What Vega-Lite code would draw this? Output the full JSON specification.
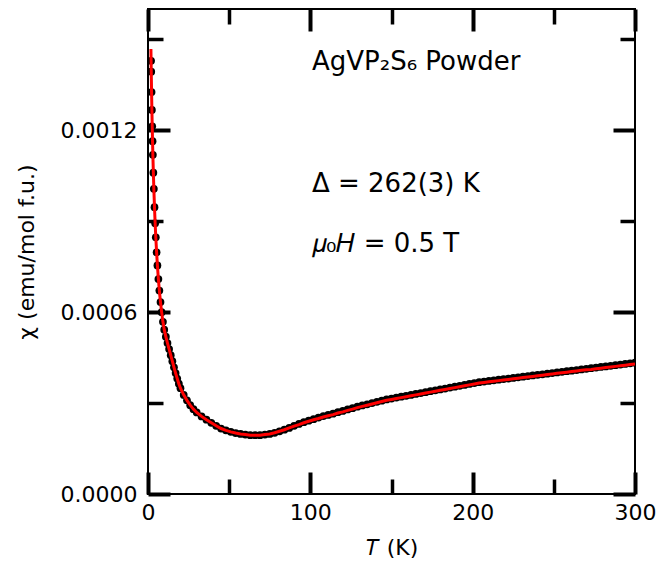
{
  "$schema": "https://vega.github.io/schema/vega-lite/v6.json",
  "width": 487,
  "height": 485,
  "autosize": {"type": "none"},
  "padding": {"left": 148, "top": 9, "right": 21, "bottom": 80},
  "background": "white",
  "config": {
    "font": "DejaVu Sans",
    "view": {"stroke": "black", "strokeWidth": 2},
    "axis": {
      "domain": false, "grid": false,
      "labelFont": "DejaVu Sans", "labelFontSize": 22, "labelColor": "black",
      "titleFont": "DejaVu Sans", "titleFontSize": 22, "titleFontWeight": "normal", "titleColor": "black",
      "tickColor": "black", "labelFlush": false
    }
  },
  "datasets": {
    "curve": [
      {"T": 1.8, "fit": 0.001468, "chi": null},
      {"T": 1.9, "fit": 0.001429, "chi": 0.001429},
      {"T": 2.0, "fit": 0.001393, "chi": 0.001393},
      {"T": 2.2, "fit": 0.001326, "chi": 0.001326},
      {"T": 2.4, "fit": 0.001267, "chi": 0.001267},
      {"T": 2.6, "fit": 0.001213, "chi": 0.001213},
      {"T": 2.8, "fit": 0.001164, "chi": 0.001164},
      {"T": 3.0, "fit": 0.001119, "chi": 0.001119},
      {"T": 3.3, "fit": 0.001060, "chi": 0.001060},
      {"T": 3.6, "fit": 0.001007, "chi": 0.001007},
      {"T": 4.0, "fit": 0.000946, "chi": 0.000946},
      {"T": 4.4, "fit": 0.000893, "chi": 0.000893},
      {"T": 4.8, "fit": 0.000847, "chi": 0.000847},
      {"T": 5.3, "fit": 0.000797, "chi": 0.000797},
      {"T": 5.8, "fit": 0.000754, "chi": 0.000754},
      {"T": 6.4, "fit": 0.000709, "chi": 0.000709},
      {"T": 7.0, "fit": 0.000671, "chi": 0.000671},
      {"T": 7.7, "fit": 0.000633, "chi": 0.000633},
      {"T": 8.4, "fit": 0.000600, "chi": 0.000600},
      {"T": 9.2, "fit": 0.000568, "chi": 0.000568},
      {"T": 10, "fit": 0.000542, "chi": 0.000542},
      {"T": 11, "fit": 0.000519, "chi": 0.000519},
      {"T": 12, "fit": 0.000498, "chi": 0.000498},
      {"T": 13, "fit": 0.000478, "chi": 0.000478},
      {"T": 14, "fit": 0.000458, "chi": 0.000458},
      {"T": 15, "fit": 0.000438, "chi": 0.000438},
      {"T": 16, "fit": 0.000418, "chi": 0.000418},
      {"T": 17, "fit": 0.000399, "chi": 0.000399},
      {"T": 18, "fit": 0.000381, "chi": 0.000381},
      {"T": 19, "fit": 0.000364, "chi": 0.000364},
      {"T": 20, "fit": 0.000349, "chi": 0.000349},
      {"T": 22, "fit": 0.000327, "chi": 0.000327},
      {"T": 24, "fit": 0.000309, "chi": 0.000309},
      {"T": 26, "fit": 0.000293, "chi": 0.000293},
      {"T": 28, "fit": 0.000280, "chi": 0.000280},
      {"T": 30, "fit": 0.000269, "chi": 0.000269},
      {"T": 33, "fit": 0.000256, "chi": 0.000256},
      {"T": 36, "fit": 0.000245, "chi": 0.000245},
      {"T": 39, "fit": 0.000235, "chi": 0.000235},
      {"T": 42, "fit": 0.000225, "chi": 0.000225},
      {"T": 45, "fit": 0.000216, "chi": 0.000216},
      {"T": 48, "fit": 0.000210, "chi": 0.000210},
      {"T": 51, "fit": 0.000205, "chi": 0.000205},
      {"T": 54, "fit": 0.000201, "chi": 0.000201},
      {"T": 57, "fit": 0.000198, "chi": 0.000198},
      {"T": 60, "fit": 0.000196, "chi": 0.000196},
      {"T": 63, "fit": 0.000194, "chi": 0.000194},
      {"T": 66, "fit": 0.000194, "chi": 0.000194},
      {"T": 69, "fit": 0.000194, "chi": 0.000194},
      {"T": 72, "fit": 0.000196, "chi": 0.000196},
      {"T": 75, "fit": 0.000198, "chi": 0.000198},
      {"T": 78, "fit": 0.000202, "chi": 0.000202},
      {"T": 81, "fit": 0.000207, "chi": 0.000207},
      {"T": 84, "fit": 0.000212, "chi": 0.000212},
      {"T": 87, "fit": 0.000218, "chi": 0.000218},
      {"T": 90, "fit": 0.000224, "chi": 0.000225},
      {"T": 93, "fit": 0.000229, "chi": 0.000231},
      {"T": 96, "fit": 0.000235, "chi": 0.000237},
      {"T": 99, "fit": 0.000240, "chi": 0.000242},
      {"T": 102, "fit": 0.000245, "chi": 0.000247},
      {"T": 105, "fit": 0.000249, "chi": 0.000252},
      {"T": 108, "fit": 0.000254, "chi": 0.000257},
      {"T": 111, "fit": 0.000258, "chi": 0.000261},
      {"T": 114, "fit": 0.000262, "chi": 0.000265},
      {"T": 117, "fit": 0.000267, "chi": 0.000270},
      {"T": 120, "fit": 0.000271, "chi": 0.000274},
      {"T": 123, "fit": 0.000276, "chi": 0.000279},
      {"T": 126, "fit": 0.000280, "chi": 0.000283},
      {"T": 129, "fit": 0.000285, "chi": 0.000288},
      {"T": 132, "fit": 0.000289, "chi": 0.000292},
      {"T": 135, "fit": 0.000293, "chi": 0.000296},
      {"T": 138, "fit": 0.000297, "chi": 0.000300},
      {"T": 141, "fit": 0.000301, "chi": 0.000304},
      {"T": 144, "fit": 0.000305, "chi": 0.000308},
      {"T": 147, "fit": 0.000309, "chi": 0.000312},
      {"T": 150, "fit": 0.000312, "chi": 0.000315},
      {"T": 153, "fit": 0.000315, "chi": 0.000318},
      {"T": 156, "fit": 0.000318, "chi": 0.000321},
      {"T": 159, "fit": 0.000321, "chi": 0.000324},
      {"T": 162, "fit": 0.000324, "chi": 0.000327},
      {"T": 165, "fit": 0.000327, "chi": 0.000330},
      {"T": 168, "fit": 0.000330, "chi": 0.000333},
      {"T": 171, "fit": 0.000333, "chi": 0.000336},
      {"T": 174, "fit": 0.000336, "chi": 0.000339},
      {"T": 177, "fit": 0.000339, "chi": 0.000342},
      {"T": 180, "fit": 0.000342, "chi": 0.000345},
      {"T": 183, "fit": 0.000345, "chi": 0.000348},
      {"T": 186, "fit": 0.000348, "chi": 0.000351},
      {"T": 189, "fit": 0.000351, "chi": 0.000354},
      {"T": 192, "fit": 0.000354, "chi": 0.000357},
      {"T": 195, "fit": 0.000357, "chi": 0.000360},
      {"T": 198, "fit": 0.000360, "chi": 0.000363},
      {"T": 201, "fit": 0.000363, "chi": 0.000366},
      {"T": 204, "fit": 0.000366, "chi": 0.000369},
      {"T": 207, "fit": 0.000368, "chi": 0.000371},
      {"T": 210, "fit": 0.000370, "chi": 0.000373},
      {"T": 213, "fit": 0.000372, "chi": 0.000375},
      {"T": 216, "fit": 0.000374, "chi": 0.000377},
      {"T": 219, "fit": 0.000376, "chi": 0.000379},
      {"T": 222, "fit": 0.000378, "chi": 0.000381},
      {"T": 225, "fit": 0.000380, "chi": 0.000383},
      {"T": 228, "fit": 0.000382, "chi": 0.000385},
      {"T": 231, "fit": 0.000384, "chi": 0.000387},
      {"T": 234, "fit": 0.000386, "chi": 0.000389},
      {"T": 237, "fit": 0.000388, "chi": 0.000391},
      {"T": 240, "fit": 0.000390, "chi": 0.000393},
      {"T": 243, "fit": 0.000392, "chi": 0.000395},
      {"T": 246, "fit": 0.000394, "chi": 0.000397},
      {"T": 249, "fit": 0.000396, "chi": 0.000399},
      {"T": 252, "fit": 0.000398, "chi": 0.000401},
      {"T": 255, "fit": 0.000400, "chi": 0.000403},
      {"T": 258, "fit": 0.000402, "chi": 0.000405},
      {"T": 261, "fit": 0.000404, "chi": 0.000407},
      {"T": 264, "fit": 0.000406, "chi": 0.000409},
      {"T": 267, "fit": 0.000408, "chi": 0.000411},
      {"T": 270, "fit": 0.000410, "chi": 0.000413},
      {"T": 273, "fit": 0.000411, "chi": 0.000415},
      {"T": 276, "fit": 0.000413, "chi": 0.000417},
      {"T": 279, "fit": 0.000415, "chi": 0.000419},
      {"T": 282, "fit": 0.000417, "chi": 0.000421},
      {"T": 285, "fit": 0.000419, "chi": 0.000423},
      {"T": 288, "fit": 0.000421, "chi": 0.000425},
      {"T": 291, "fit": 0.000423, "chi": 0.000427},
      {"T": 294, "fit": 0.000425, "chi": 0.000429},
      {"T": 297, "fit": 0.000427, "chi": 0.000431},
      {"T": 300, "fit": 0.000429, "chi": 0.000433}
    ],
    "notes1": [
      {"T": 101, "chi": 0.0013987, "label": "AgVP₂S₆ Powder"}
    ],
    "notes2": [
      {"T": 101, "chi": 0.000996, "label": "Δ = 262(3) K"},
      {"T": 101, "chi": 0.000798, "label": "𝜇₀𝐻 = 0.5 T"}
    ]
  },
  "layer": [
    {
      "data": {"name": "curve"},
      "mark": {"type": "circle", "color": "black", "size": 60, "opacity": 1, "clip": true},
      "encoding": {
        "x": {"field": "T", "type": "quantitative", "scale": {"domain": [0, 300], "nice": false},
          "axis": {"orient": "bottom", "values": [0, 100, 200, 300], "tickSize": -22, "tickWidth": 4, "labelPadding": 30, "title": "𝑇 (K)", "titlePadding": 14}},
        "y": {"field": "chi", "type": "quantitative", "scale": {"domain": [0, 0.0016], "nice": false},
          "axis": {"orient": "left", "values": [0, 0.0006, 0.0012], "format": ".4f", "tickSize": -22, "tickWidth": 4, "labelPadding": 33, "title": "χ (emu/mol f.u.)", "titlePadding": 22}}
      }
    },
    {
      "data": {"name": "curve"},
      "mark": {"type": "line", "color": "#ff0000", "strokeWidth": 3, "clip": true},
      "encoding": {
        "x": {"field": "T", "type": "quantitative",
          "axis": {"orient": "bottom", "values": [50, 150, 250], "tickSize": -15, "tickWidth": 3.5, "labels": false, "title": null}},
        "y": {"field": "fit", "type": "quantitative",
          "axis": {"orient": "left", "values": [0.0003, 0.0009, 0.0015], "tickSize": -15, "tickWidth": 3.5, "labels": false, "title": null}}
      }
    },
    {
      "data": {"name": "notes1"},
      "mark": {"type": "text", "align": "left", "baseline": "alphabetic", "fontSize": 26, "font": "DejaVu Sans", "color": "black"},
      "encoding": {
        "x": {"field": "T", "type": "quantitative",
          "axis": {"orient": "top", "values": [0, 100, 200, 300], "tickSize": -22, "tickWidth": 4, "labels": false, "title": null}},
        "y": {"field": "chi", "type": "quantitative",
          "axis": {"orient": "right", "values": [0, 0.0006, 0.0012], "tickSize": -22, "tickWidth": 4, "labels": false, "title": null}},
        "text": {"field": "label"}
      }
    },
    {
      "data": {"name": "notes2"},
      "mark": {"type": "text", "align": "left", "baseline": "alphabetic", "fontSize": 26, "font": "DejaVu Sans", "color": "black"},
      "encoding": {
        "x": {"field": "T", "type": "quantitative",
          "axis": {"orient": "top", "values": [50, 150, 250], "tickSize": -15, "tickWidth": 3.5, "labels": false, "title": null}},
        "y": {"field": "chi", "type": "quantitative",
          "axis": {"orient": "right", "values": [0.0003, 0.0009, 0.0015], "tickSize": -15, "tickWidth": 3.5, "labels": false, "title": null}},
        "text": {"field": "label"}
      }
    }
  ],
  "resolve": {"axis": {"x": "independent", "y": "independent"}}
}
